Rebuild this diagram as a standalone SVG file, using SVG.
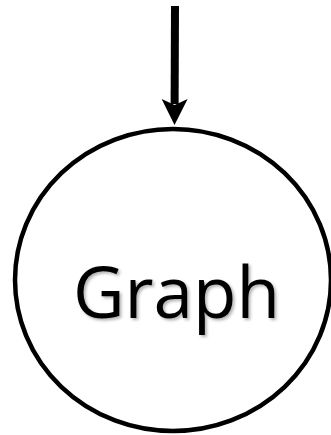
<svg xmlns="http://www.w3.org/2000/svg" width="331" height="435" viewBox="0 0 331 435">
  <style>
    .node-shape { fill: #ffffff; stroke: #000000; stroke-width: 4.5; }
    .node-label { font-family: "Open Sans", "Liberation Sans", sans-serif; font-size: 71px; fill: #000000; text-anchor: middle; }
    .edge { stroke: #000000; stroke-width: 8; fill: none; }
  </style>
  <defs>
    <marker id="arrowhead" markerUnits="userSpaceOnUse" markerWidth="26" markerHeight="26" refX="5" refY="13" orient="auto" viewBox="0 0 26 26">
      <path d="M0,0 L26,13 L0,26 L6,13 Z" fill="#000000"/>
    </marker>
    <filter id="textShadow" x="-10%" y="-10%" width="130%" height="130%">
      <feDropShadow dx="2" dy="2" stdDeviation="1.5" flood-color="#000000" flood-opacity="0.3"/>
    </filter>
  </defs>
  <rect width="331" height="435" fill="#ffffff"/>
  <g id="connectors">
    <line class="edge" x1="175" y1="6" x2="174.6" y2="104" marker-end="url(#arrowhead)"/>
  </g>
  <g id="node-graph">
    <ellipse class="node-shape" cx="173" cy="280" rx="158" ry="151"/>
    <text class="node-label" x="176.5" y="318" filter="url(#textShadow)">Graph</text>
  </g>
</svg>
